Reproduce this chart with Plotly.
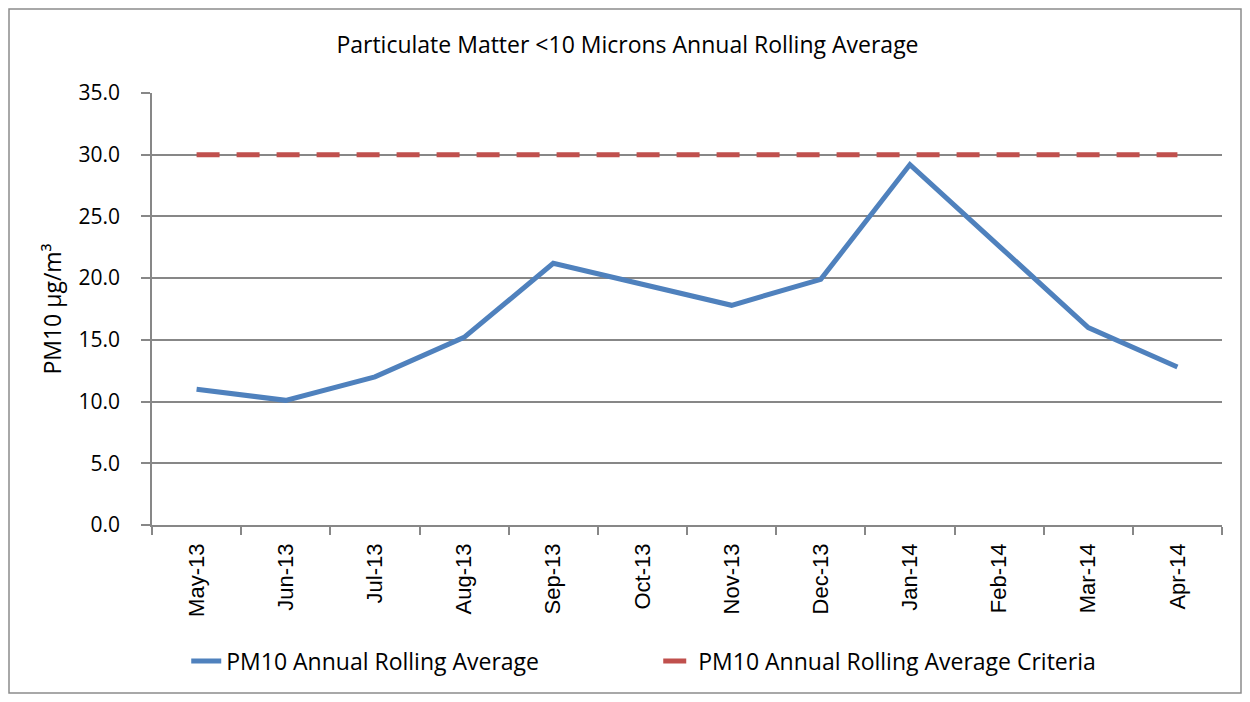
import plotly.graph_objects as go

# data
months = ["May-13", "Jun-13", "Jul-13", "Aug-13", "Sep-13", "Oct-13",
          "Nov-13", "Dec-13", "Jan-14", "Feb-14", "Mar-14", "Apr-14"]
pm10_avg = [11.0, 10.1, 12.0, 15.2, 21.2, 19.5, 17.8, 19.9, 29.2, 22.6, 16.0, 12.8]
pm10_criteria = [30.0] * 12
y_ticks = [0, 5, 10, 15, 20, 25, 30, 35]

COLOR_BLUE = "#4F81BD"
COLOR_RED = "#C0504D"
COLOR_GRID = "#878787"
FONT = "'Open Sans', Lato, sans-serif"
FONT_X = "'Liberation Sans', Arial, sans-serif"

fig = go.Figure()
fig.add_trace(go.Scatter(
    x=months, y=pm10_avg, mode="lines",
    name="PM10 Annual Rolling Average",
    line=dict(color=COLOR_BLUE, width=5),
))
fig.add_trace(go.Scatter(
    x=months, y=pm10_criteria, mode="lines",
    name="PM10 Annual Rolling Average Criteria",
    line=dict(color=COLOR_RED, width=5, dash="23px,17px"),
))

# page has an 8px body margin, so the figure is 16px smaller than the window
fig.update_layout(
    width=1234, height=686,
    margin=dict(l=144, r=20, t=85, b=169),
    paper_bgcolor="white", plot_bgcolor="white",
    font=dict(family=FONT, color="black", size=20),
    title=dict(text="Particulate Matter <10 Microns Annual Rolling Average",
               xref="container", x=0.502, xanchor="center",
               yref="container", y=0.946, yanchor="middle",
               font=dict(size=23)),
    showlegend=True,
    legend=dict(orientation="h", x=0.032, xanchor="left", y=-0.315, yanchor="middle",
                font=dict(size=23), entrywidth=427, entrywidthmode="pixels"),
    xaxis=dict(
        type="category", range=[-0.5, 11.5],
        tickangle=-90, ticks="outside", ticklen=8, tickcolor=COLOR_GRID, tickwidth=1.5,
        tickson="boundaries", showgrid=False, ticklabelstandoff=8,
        showline=True, linecolor=COLOR_GRID, linewidth=1.5,
        tickfont=dict(family=FONT_X, size=22),
    ),
    yaxis=dict(
        range=[0, 35], tickvals=y_ticks, tickformat=".1f",
        ticks="outside", ticklen=9, tickcolor=COLOR_GRID, tickwidth=1.5,
        ticklabelstandoff=17,
        showgrid=True, gridcolor=COLOR_GRID, gridwidth=1.5,
        showline=True, linecolor=COLOR_GRID, linewidth=1.5,
        zeroline=False, tickfont=dict(size=21),
        title=dict(text="PM10 µg/m³", font=dict(size=23), standoff=10),
    ),
    shapes=[dict(
        type="rect", xref="paper", yref="paper",
        x0=(9 - 152) / 1070, x1=(1241 - 152) / 1070,
        y0=(525 - 693) / 432, y1=(525 - 9) / 432,
        line=dict(color="#8C8C8C", width=1.5), fillcolor="rgba(0,0,0,0)",
        layer="below",
    )],
)

fig.write_html("out.html")
